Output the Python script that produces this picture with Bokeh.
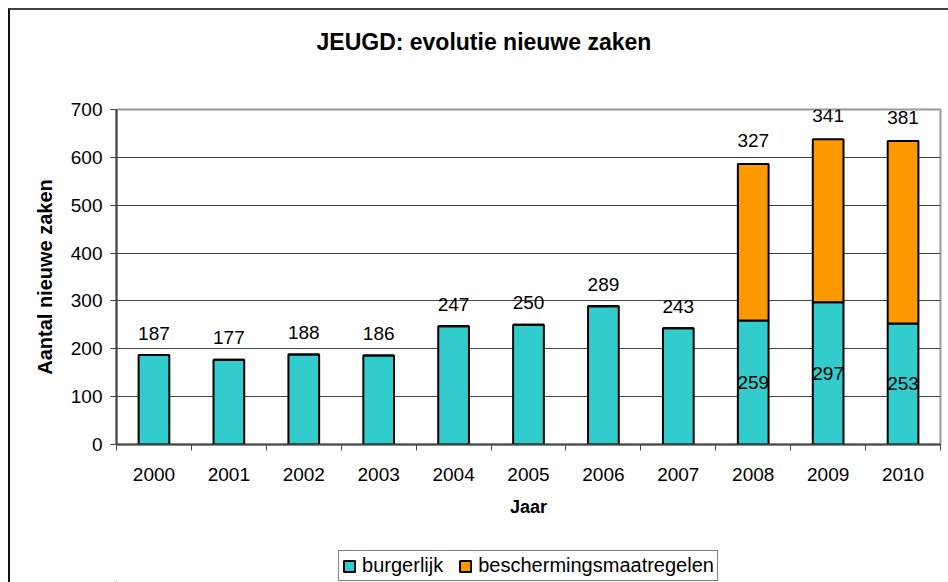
from bokeh.plotting import figure
from bokeh.layouts import column
from bokeh.models import Range1d, FixedTicker, Legend, LegendItem, ColumnDataSource, Title
from bokeh.core.properties import value
from bokeh.embed import file_html
from bokeh.resources import INLINE
import numpy as np

years = ["2000", "2001", "2002", "2003", "2004", "2005", "2006", "2007", "2008", "2009", "2010"]
burgerlijk = [187, 177, 188, 186, 247, 250, 289, 243, 259, 297, 253]
bescherming = [0, 0, 0, 0, 0, 0, 0, 0, 327, 341, 381]
y_ticks = [0, 100, 200, 300, 400, 500, 600, 700]
series_names = ["burgerlijk", "beschermingsmaatregelen"]

FONT = "Liberation Sans"
CYAN = "#33CCCC"
ORANGE = "#FF9900"

n = len(years)
xs = np.arange(n) + 0.5
b = np.array(burgerlijk, dtype=float)
s = np.array(bescherming, dtype=float)

p = figure(width=938, height=530, output_backend="svg", toolbar_location=None,
           x_range=Range1d(0, n), y_range=Range1d(0, 700), title=None,
           min_border_left=106, min_border_right=8, min_border_top=99, min_border_bottom=96)
p.background_fill_color = "white"
p.border_fill_color = "white"
p.outline_line_color = "#999999"
p.outline_line_width = 2

# spacer between frame and title, then the title itself
p.add_layout(Title(text=" ", text_font=FONT, text_font_size="20px", standoff=31), "above")
p.add_layout(Title(text="JEUGD: evolutie nieuwe zaken", align="left", offset=200, standoff=0,
                   text_font=FONT, text_font_size="23px", text_font_style="bold",
                   text_color="black"), "above")

src = ColumnDataSource(dict(x=xs, b=b, s=s, top=b + s))
r1 = p.vbar(x="x", bottom=0, top="b", width=0.41, source=src, fill_color=CYAN,
            line_color="black", line_width=2)
r2 = p.vbar(x="x", bottom="b", top="top", width=0.41, source=src, fill_color=ORANGE,
            line_color="black", line_width=2)

# grid
p.xgrid.visible = False
p.ygrid.ticker = FixedTicker(ticks=y_ticks)
p.ygrid.grid_line_color = "#444444"
p.ygrid.grid_line_width = 1

# axes
xa = p.xaxis[0]
xa.ticker = FixedTicker(ticks=list(xs), minor_ticks=list(range(n + 1)))
xa.major_label_overrides = {float(x): y for x, y in zip(xs, years)}
xa.major_tick_out = 0
xa.major_tick_in = 0
xa.minor_tick_out = 6
xa.minor_tick_in = 0
xa.minor_tick_line_color = "#444444"
xa.axis_line_color = "#444444"
xa.axis_line_width = 2
xa.major_label_text_font = FONT
xa.major_label_text_font_size = "19px"
xa.major_label_text_color = "black"
xa.major_label_standoff = 17
xa.axis_label = "Jaar"
xa.axis_label_text_font = FONT
xa.axis_label_text_font_size = "18px"
xa.axis_label_text_font_style = "bold"
xa.axis_label_text_color = "black"
xa.axis_label_standoff = 13

ya = p.yaxis[0]
ya.ticker = FixedTicker(ticks=y_ticks)
ya.major_tick_out = 6
ya.major_tick_in = 0
ya.minor_tick_out = 0
ya.minor_tick_in = 0
ya.major_tick_line_color = "#444444"
ya.axis_line_color = "#444444"
ya.axis_line_width = 2
ya.major_label_text_font = FONT
ya.major_label_text_font_size = "19px"
ya.major_label_text_color = "black"
ya.major_label_standoff = 8
ya.axis_label = "Aantal nieuwe zaken"
ya.axis_label_text_font = FONT
ya.axis_label_text_font_size = "20px"
ya.axis_label_text_font_style = "bold"
ya.axis_label_text_color = "black"
ya.axis_label_standoff = 12

# value labels
stacked = s > 0
above_src = ColumnDataSource(dict(x=xs[~stacked], y=b[~stacked],
                                  t=[str(int(v)) for v in b[~stacked]]))
mid_src = ColumnDataSource(dict(x=xs[stacked], y=b[stacked] / 2,
                                t=[str(int(v)) for v in b[stacked]]))
top_src = ColumnDataSource(dict(x=xs[stacked], y=(b + s)[stacked],
                                t=[str(int(v)) for v in s[stacked]]))
common = dict(text="t", text_font=value(FONT), text_font_size="19px", text_color="black",
              text_align="center", text_baseline="middle")
p.text(x="x", y="y", source=above_src, y_offset=-22, **common)
p.text(x="x", y="y", source=mid_src, **common)
p.text(x="x", y="y", source=top_src, y_offset=-24, **common)

# legend strip below the chart (proxy renderers lie outside its visible range)
lp = figure(width=938, height=42, output_backend="svg", toolbar_location=None,
            x_range=Range1d(0, 1), y_range=Range1d(0, 1), title=None,
            x_axis_location=None, y_axis_location=None,
            min_border_left=106, min_border_right=8, min_border_top=0, min_border_bottom=0)
lp.grid.visible = False
lp.outline_line_color = None
lp.background_fill_color = "white"
lp.border_fill_color = "white"
proxy = ColumnDataSource(dict(x=[-5.0], top=[-5.0]))
l1 = lp.vbar(x="x", top="top", width=0.1, source=proxy, fill_color=CYAN,
             line_color="black", line_width=2)
l2 = lp.vbar(x="x", top="top", width=0.1, source=proxy, fill_color=ORANGE,
             line_color="black", line_width=2)
legend = Legend(items=[LegendItem(label=series_names[0], renderers=[l1]),
                       LegendItem(label=series_names[1], renderers=[l2])],
                orientation="horizontal", location="bottom_center",
                label_text_font=FONT, label_text_font_size="20px", label_text_color="black",
                glyph_width=14, glyph_height=14, label_standoff=6, spacing=15,
                padding=3, margin=1, border_line_color="black", border_line_width=1,
                background_fill_alpha=1)
lp.add_layout(legend)

layout = column(p, lp, spacing=0)
layout.styles = {"margin-left": "8px", "margin-top": "8px",
                 "border-left": "2px solid #111111", "border-top": "2px solid #444444"}

open("out.html", "w").write(file_html(layout, INLINE))
